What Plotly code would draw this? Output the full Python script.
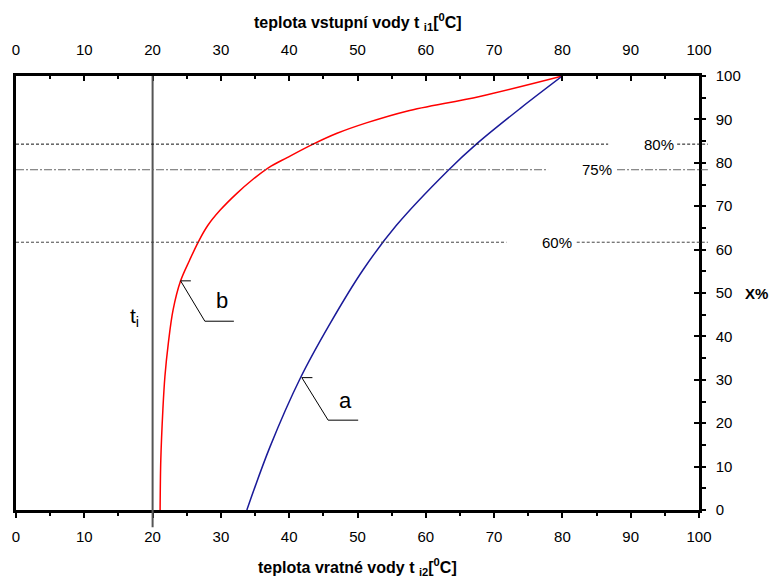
import plotly.graph_objects as go

# ---- data ----
curve_b_x = [21.1, 21.2, 21.5, 21.8, 22.3, 23.0, 24.1, 25.4, 26.7, 28.1, 29.9, 32.3, 34.7, 37.0, 39.7, 43.5, 47.0, 51.3, 57.2, 67.9, 80.0]
curve_b_y = [0, 11.5, 23.0, 30.7, 38.4, 46.1, 52.8, 57.5, 61.8, 65.6, 69.1, 72.9, 76.2, 78.9, 81.2, 84.3, 86.8, 89.2, 91.9, 95.3, 100]

curve_a_x = [33.8, 37.2, 41.6, 46.0, 50.8, 55.7, 63.3, 67.4, 73.8, 80.0]
curve_a_y = [0, 14.6, 30.3, 43.0, 55.3, 65.6, 78.3, 84.3, 92.5, 100]

ref_levels = [84.3, 78.4, 61.7]
ref_labels = ["80%", "75%", "60%"]
ref_line_end = [86.7, 77.9, 71.8]
ref_label_x = [94.2, 85.1, 79.2]
ref_line_restart = [96.8, 88.0, 82.1]
ref_dash = ["3px,2px", "8px,2px,2px,2px", "3px,2px"]
ref_color = ["#111111", "#666666", "#444444"]

t_i = 20
ticks = list(range(0, 101, 10))

top_title = "<b>teplota vstupní vody t <sub>i1</sub>[<sup>0</sup>C]</b>"
bottom_title = "<b>teplota vratné vody t <sub>i2</sub>[<sup>0</sup>C]</b>"

XR = [0, 100]
YR = [0, 100]

def xd(v):
    return (v - XR[0]) / (XR[1] - XR[0])

def yd(v):
    return (v - YR[0]) / (YR[1] - YR[0])

fig = go.Figure()

fig.add_trace(go.Scatter(x=curve_b_x, y=curve_b_y, mode="lines", line=dict(color="#ff0000", width=1.5, shape="spline", smoothing=1.0), showlegend=False, hoverinfo="skip"))
fig.add_trace(go.Scatter(x=curve_a_x, y=curve_a_y, mode="lines", line=dict(color="#1a1a99", width=1.5, shape="spline", smoothing=1.0), showlegend=False, hoverinfo="skip"))
# invisible traces so overlay axes render
fig.add_trace(go.Scatter(x=[0], y=[0], xaxis="x2", yaxis="y2", mode="markers", marker=dict(opacity=0), showlegend=False, hoverinfo="skip"))
fig.add_trace(go.Scatter(x=[0], y=[0], xaxis="x", yaxis="y3", mode="markers", marker=dict(opacity=0), showlegend=False, hoverinfo="skip"))

shapes = []
# vertical line t_i
shapes.append(dict(type="line", xref="x domain", yref="y domain", x0=xd(t_i), x1=xd(t_i), y0=-0.04, y1=1.0, line=dict(color="#555555", width=2)))
# reference level lines
for lvl, e, r, d, c in zip(ref_levels, ref_line_end, ref_line_restart, ref_dash, ref_color):
    shapes.append(dict(type="line", xref="x domain", yref="y domain", x0=0, x1=xd(e), y0=yd(lvl), y1=yd(lvl), line=dict(color=c, width=1, dash=d)))
    shapes.append(dict(type="line", xref="x domain", yref="y domain", x0=xd(r), x1=xd(101.3), y0=yd(lvl), y1=yd(lvl), line=dict(color=c, width=1, dash=d)))
# leader lines
leaders = [
    [(25.6, 52.8), (24.1, 52.8), (27.65, 43.5), (31.9, 43.5)],
    [(43.4, 30.5), (41.85, 30.5), (45.7, 20.7), (50.1, 20.7)],
]
for pts in leaders:
    for (x0, y0), (x1, y1) in zip(pts[:-1], pts[1:]):
        shapes.append(dict(type="line", xref="x", yref="y", x0=x0, x1=x1, y0=y0, y1=y1, line=dict(color="#000000", width=1)))

annotations = []
for lvl, lab, lx in zip(ref_levels, ref_labels, ref_label_x):
    annotations.append(dict(x=lx, y=lvl, xref="x", yref="y", text=lab, showarrow=False, font=dict(size=15, color="#000000"), xanchor="center", yanchor="middle"))
annotations.append(dict(x=30.1, y=48.2, xref="x", yref="y", text="b", showarrow=False, font=dict(size=22, color="#000")))
annotations.append(dict(x=48.2, y=25.2, xref="x", yref="y", text="a", showarrow=False, font=dict(size=22, color="#000")))
annotations.append(dict(x=17.3, y=44.5, xref="x", yref="y", text="t<sub>i</sub>", showarrow=False, font=dict(size=21, color="#000")))
annotations.append(dict(x=1.084, y=yd(50), xref="paper", yref="paper", text="<b>X%</b>", showarrow=False, font=dict(size=15, color="#000"), xanchor="center"))
annotations.append(dict(x=0.5, y=1.124, xref="paper", yref="paper", text=top_title, showarrow=False, font=dict(size=16, color="#000"), xanchor="center", yanchor="middle"))
annotations.append(dict(x=0.5, y=-0.131, xref="paper", yref="paper", text=bottom_title, showarrow=False, font=dict(size=16, color="#000"), xanchor="center", yanchor="middle"))

axis_font = dict(family="Liberation Sans, Arial, sans-serif", size=15, color="#000")

fig.update_layout(
    width=775, height=578,
    margin=dict(l=16, r=76, t=76, b=68),
    plot_bgcolor="white", paper_bgcolor="white",
    font=dict(family="Liberation Sans, Arial, sans-serif", color="#000"),
    shapes=shapes, annotations=annotations,
    xaxis=dict(range=XR, tickvals=ticks, ticks="outside", ticklen=5, tickwidth=1.5, tickcolor="#000",
               minor=dict(dtick=5, ticks="outside", ticklen=3, tickcolor="#000"),
               showline=True, linewidth=2.5, linecolor="#000", showgrid=False, zeroline=False,
               tickfont=axis_font, ticklabelstandoff=6, automargin=False),
    xaxis2=dict(range=XR, tickvals=ticks, overlaying="x", side="top", ticks="inside", ticklen=5, tickwidth=1.5, tickcolor="#000",
                minor=dict(dtick=5, ticks="inside", ticklen=3, tickcolor="#000"),
                showline=True, linewidth=2.5, linecolor="#000", showgrid=False, zeroline=False,
                tickfont=axis_font, ticklabelstandoff=12, automargin=False),
    yaxis=dict(range=YR, showline=True, linewidth=2.5, linecolor="#000", showticklabels=False, ticks="", showgrid=False, zeroline=False, automargin=False),
    yaxis2=dict(range=YR, overlaying="y", side="right", tickvals=ticks, ticks="outside", ticklen=3, tickwidth=1.5, tickcolor="#000",
                minor=dict(dtick=5, ticks="outside", ticklen=4, tickcolor="#000"),
                showline=True, linewidth=2.5, linecolor="#000", showgrid=False, zeroline=False,
                tickfont=axis_font, ticklabelstandoff=8, automargin=False),
    yaxis3=dict(range=YR, overlaying="y", side="right", tickvals=ticks, ticks="inside", ticklen=5, tickwidth=1.5, tickcolor="#000",
                showticklabels=False, showline=False, showgrid=False, zeroline=False, automargin=False),
)

fig.write_html("out.html")
